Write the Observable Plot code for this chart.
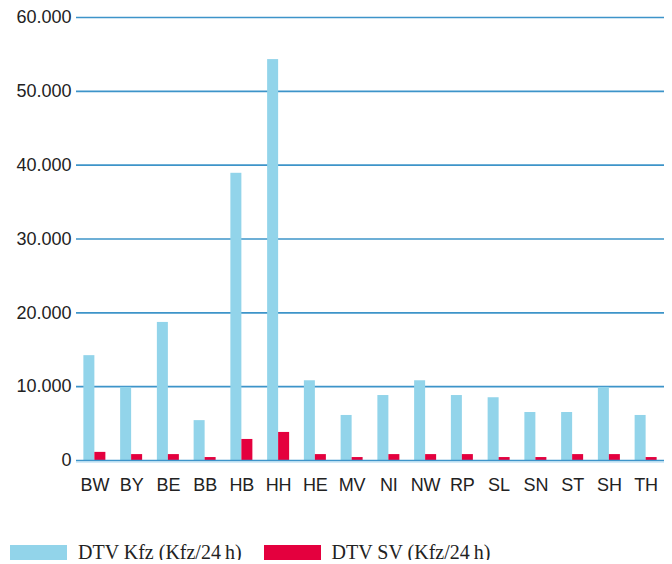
<!DOCTYPE html>
<html>
<head>
<meta charset="utf-8">
<script src="https://cdn.jsdelivr.net/npm/d3@7"></script>
<script src="https://cdn.jsdelivr.net/npm/@observablehq/plot@0.6"></script>
<style>
  body { margin: 0; background: #fff; }
  #legend { display: flex; align-items: center; padding-top: 45px; padding-left: 10px; font-family: "Liberation Serif", "Times New Roman", serif; font-size: 20px; line-height: 15px; color: #222; }
  #legend .sw { width: 57px; height: 15px; display: inline-block; margin-right: 11px; }
  #legend .item { display: flex; align-items: center; margin-right: 22px; }
</style>
</head>
<body>
<div id="chart"></div>
<div id="legend"></div>
<script>
const states = ["BW","BY","BE","BB","HB","HH","HE","MV","NI","NW","RP","SL","SN","ST","SH","TH"];
const dtvKfz = [14200, 9900, 18700, 5400, 38900, 54300, 10800, 6100, 8800, 10800, 8800, 8500, 6500, 6500, 9900, 6100];
const dtvSV  = [1100, 800, 800, 400, 2850, 3800, 800, 400, 800, 800, 800, 400, 400, 800, 800, 400];
const seriesNames = ["DTV Kfz (Kfz/24\u2009h)", "DTV SV (Kfz/24\u2009h)"];
const seriesColors = ["#92d4ea", "#e4003e"];
const yTicks = [0, 10000, 20000, 30000, 40000, 50000, 60000];

const kfzData = states.map((s, i) => ({state: s, value: dtvKfz[i]}));
const svData = states.map((s, i) => ({state: s, value: dtvSV[i]}));

const W = 672, H = 500;
const mL = 76, mR = 8;
const step = (W - mL - mR) / states.length;
const barW = 11;
const fmt = d => d === 0 ? "0" : d3.format(",")(d).replace(/,/g, ".");

const chart = Plot.plot({
  width: W,
  height: H,
  marginLeft: mL,
  marginRight: mR,
  marginTop: 17,
  marginBottom: 40,
  style: { fontFamily: "'Liberation Sans', Arial, sans-serif", fontSize: "18px", color: "#222", background: "#fff" },
  x: { domain: states, padding: 0, round: false, label: null, tickSize: 0, tickPadding: 18 },
  y: { domain: [0, 60000], ticks: yTicks, tickFormat: fmt, label: null, tickSize: 0, tickPadding: 5 },
  marks: [
    Plot.ruleY(yTicks.filter(d => d > 0), { stroke: "#3d94c9", strokeWidth: 1.6 }),
    Plot.barY(kfzData, { x: "state", y: "value", fill: seriesColors[0], insetLeft: step / 2 - barW, insetRight: step / 2 }),
    Plot.barY(svData, { x: "state", y: "value", fill: seriesColors[1], insetLeft: step / 2, insetRight: step / 2 - barW }),
    Plot.ruleY([0], { stroke: "#3d94c9", strokeWidth: 1.6 }),
    Plot.ruleY([0], { stroke: "#a9d6ef", strokeWidth: 1, dy: 1.5 })
  ]
});
document.getElementById("chart").appendChild(chart);

const legend = document.getElementById("legend");
seriesNames.forEach((name, i) => {
  const item = document.createElement("div");
  item.className = "item";
  const sw = document.createElement("span");
  sw.className = "sw";
  sw.style.background = seriesColors[i];
  const t = document.createElement("span");
  t.textContent = name;
  item.appendChild(sw);
  item.appendChild(t);
  legend.appendChild(item);
});
</script>
</body>
</html>
